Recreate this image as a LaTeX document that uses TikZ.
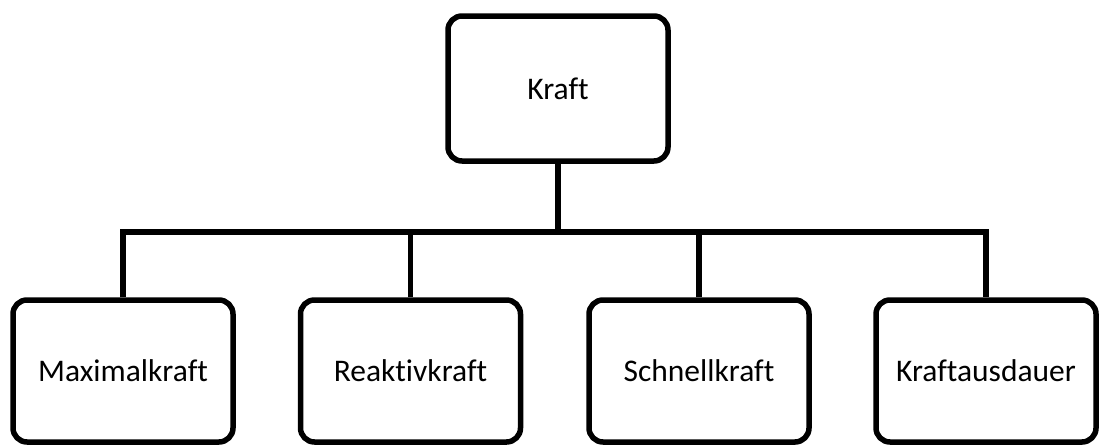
\documentclass[tikz,border=0pt]{standalone}
\usepackage{fontspec}
\setmainfont{Carlito}[Ligatures=CommonOff]
\begin{document}
\begin{tikzpicture}[x=1pt,y=-1pt,
  line width=5.5pt, line join=miter,
  box/.style={draw=black, rounded corners=14pt, inner sep=0pt,
    minimum width=220pt, font=\fontsize{31.5}{37}\selectfont},
  topbox/.style={box, minimum height=145pt},
  leafbox/.style={box, minimum height=142pt}]
  \useasboundingbox (0,0) rectangle (1099,445);

  % root and the four kinds of strength
  \node[topbox]  (top) at (558,88.5) {Kraft};
  \node[leafbox] (b1)  at (123,371)   {Maximalkraft};
  \node[leafbox] (b2)  at (410.5,371) {Reaktivkraft};
  \node[leafbox] (b3)  at (699,371)   {Schnellkraft};
  \node[leafbox] (b4)  at (986,371)   {Kraftausdauer};

  % horizontal bus level
  \coordinate (bus) at (558,232);

  % tree connectors
  \draw (top.south) -- (top.south |- bus);
  \draw (b1.north) -- (b1.north |- bus) -- (b4.north |- bus) -- (b4.north);
  \draw (b2.north) -- (b2.north |- bus);
  \draw (b3.north) -- (b3.north |- bus);
\end{tikzpicture}
\end{document}
